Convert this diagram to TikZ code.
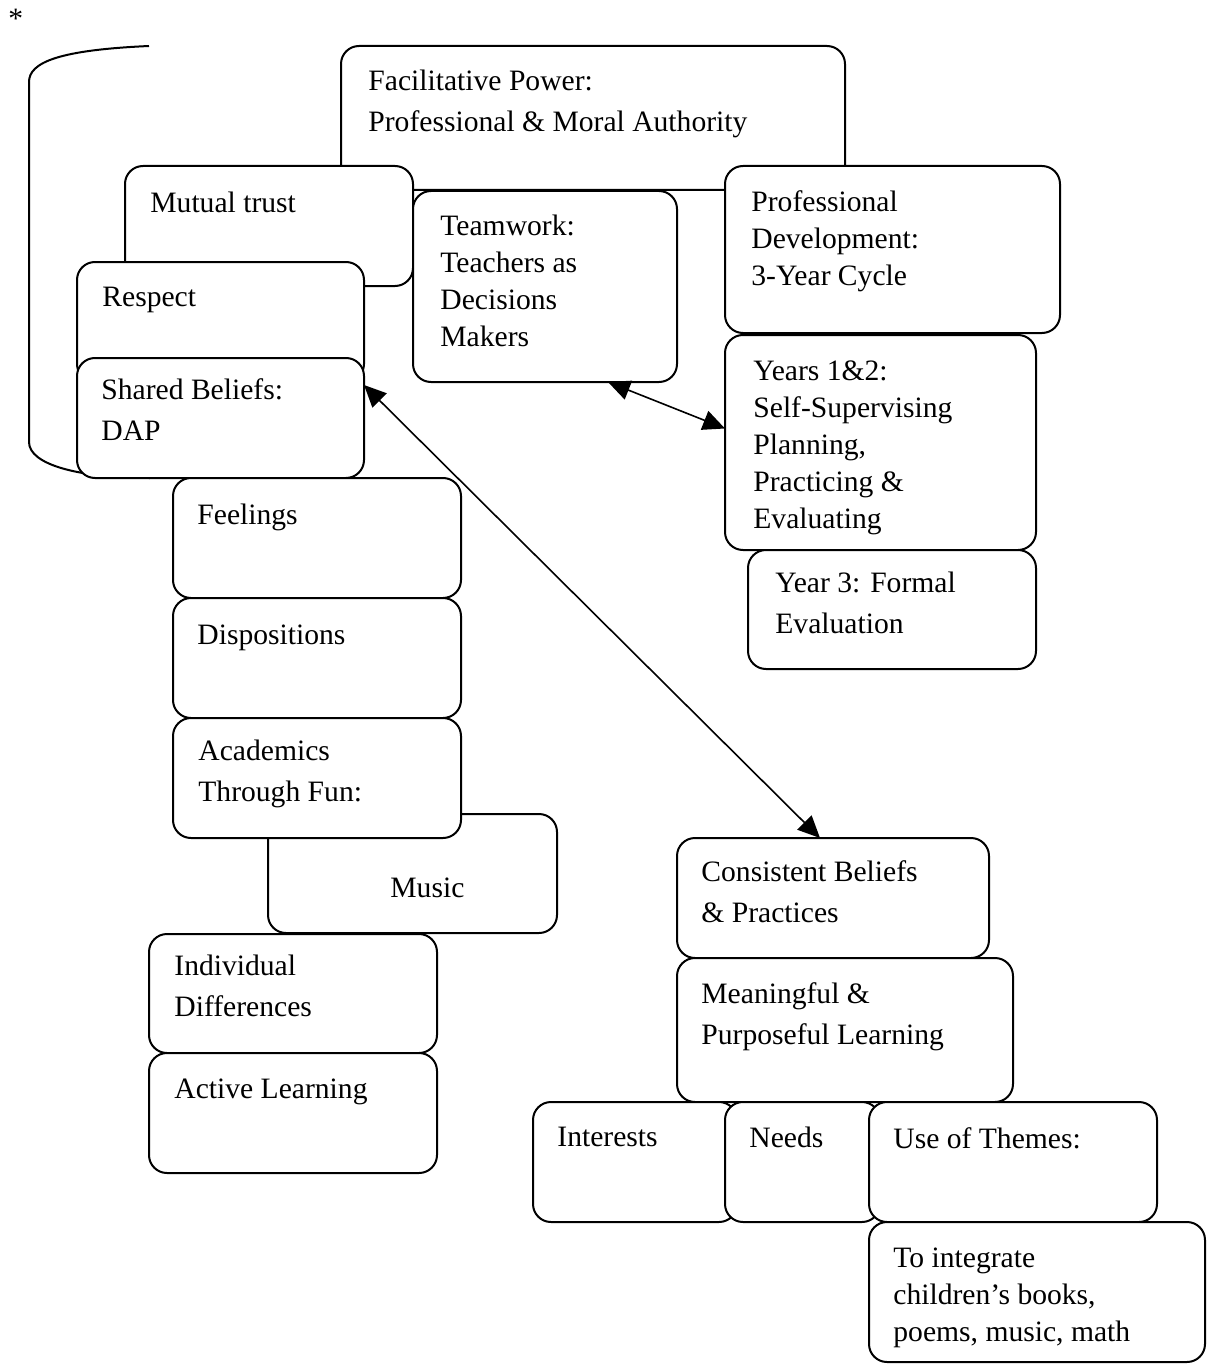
\documentclass[tikz,border=0pt]{standalone}
\usepackage{fontspec}
\setmainfont{Liberation Serif}
\usetikzlibrary{arrows.meta}

\tikzset{
  box/.style={draw, line width=1pt, rounded corners=9pt, fill=white, anchor=north west, inner sep=0pt, outer sep=0pt},
  txt/.style={anchor=north west, inner sep=0pt, align=left, font=\fontsize{14.8}{#1}\selectfont},
  txt/.default=18.5,
  link/.style={line width=0.8pt, {Triangle[length=11pt,width=10pt]}-{Triangle[length=11pt,width=10pt]}}
}

% name, x, y, width, height, text dx, text dy, line skip, text
\newcommand\tagbox[9]{%
  \node[box, minimum width=#4*0.5pt, minimum height=#5*0.5pt] (#1) at (#2,#3) {};
  \node[txt=#8] (#1-t) at ([shift={(#6,#7)}]#1.north west) {#9};
}

\begin{document}
\begin{tikzpicture}[x=0.5pt, y=-0.5pt]
    \useasboundingbox (0,0) rectangle (1207,1364);
    \node[txt] (star) at (8,9) {*};
    % bracket round the left group
    \draw[line width=1pt] (149,46) .. controls (60,50) and (29,62) .. (29,82) -- (29,442) .. controls (29,465) and (80,478) .. (150,478);
    % boxes in drawing order
    \tagbox{fac}{341}{46}{504}{144}{27}{24}{20.5}{Facilitative Power:\\Professional \& Moral Authority}
    \tagbox{mt}{125}{166}{288}{120}{25}{26}{18.5}{Mutual trust}
    \tagbox{tw}{413}{191}{264}{191}{27}{24}{18.5}{Teamwork:\\Teachers as\\Decisions\\Makers}
    \tagbox{pd}{725}{166}{335}{167}{26}{24}{18.5}{Professional\\Development:\\3-Year Cycle}
    \tagbox{resp}{77}{262}{287}{120}{25}{25}{18.5}{Respect}
    \tagbox{sb}{77}{358}{287}{120}{24}{20}{20.5}{Shared Beliefs:\\DAP}
    \tagbox{yr}{725}{335}{311}{215}{28}{25}{18.5}{Years 1\&2:\\Self-Supervising\\Planning,\\Practicing \&\\Evaluating}
    \tagbox{yr3}{748}{550}{288}{119}{27}{22}{20.5}{Year 3: Formal\\Evaluation}
    \tagbox{feel}{173}{478}{288}{120}{24}{26}{18.5}{Feelings}
    \tagbox{disp}{173}{598}{288}{120}{24}{26}{18.5}{Dispositions}
    \tagbox{music}{268}{814}{289}{119}{122}{63}{18.5}{Music}
    \tagbox{acad}{173}{718}{288}{120}{25}{22}{20.5}{Academics\\Through Fun:}
    \tagbox{ind}{149}{934}{288}{119}{25}{21}{20.5}{Individual\\Differences}
    \tagbox{act}{149}{1053}{288}{120}{25}{25}{18.5}{Active Learning}
    \tagbox{cb}{677}{838}{312}{120}{24}{22}{20.5}{Consistent Beliefs\\\& Practices}
    \tagbox{mean}{677}{958}{336}{144}{24}{24}{20.5}{Meaningful \&\\Purposeful Learning}
    \tagbox{int}{533}{1102}{204}{120}{24}{25}{18.5}{Interests}
    \tagbox{need}{725}{1102}{155}{120}{24}{25}{18.5}{Needs}
    \tagbox{theme}{869}{1102}{288}{120}{24}{25}{18.5}{Use of Themes:}
    \tagbox{integ}{869}{1222}{336}{140}{24}{25}{18.5}{To integrate\\children’s books,\\poems, music, math}
    \draw[link] ([yshift=-13.5pt]sb.north east) -- ([xshift=-6.5pt]cb.north);
    \draw[link] ([xshift=31.5pt]tw.south) -- ([yshift=7pt]yr.west);
\end{tikzpicture}
\end{document}
